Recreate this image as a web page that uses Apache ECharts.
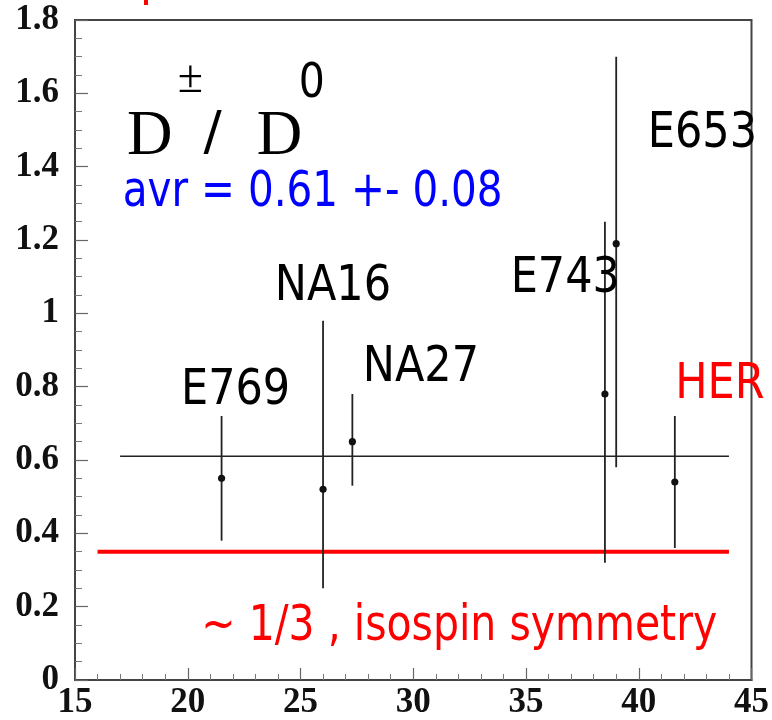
<!DOCTYPE html>
<html>
<head>
<meta charset="utf-8">
<script src="https://cdn.jsdelivr.net/npm/echarts@6/dist/echarts.min.js"></script>
<style>
  html, body { margin: 0; padding: 0; background: #fff; }
  #main { width: 772px; height: 720px; }
</style>
</head>
<body>
<div id="main"></div>
<script>
// D+- / D0 production ratio measured by several fixed-target experiments
const experiments = ['E769', 'NA16', 'NA27', 'E743', 'E653', 'HER'];
const energies    = [21.5, 26.0, 27.3, 38.5, 39.0, 41.6];   // sqrt(s), GeV
const ratios      = [0.55, 0.52, 0.65, 0.78, 1.19, 0.54];
const errLow      = [0.38, 0.25, 0.53, 0.32, 0.58, 0.36];
const errHigh     = [0.72, 0.98, 0.78, 1.25, 1.70, 0.72];

// weighted average and the isospin-symmetry expectation
const averageValue = 0.61;
const averageSpan  = [17, 44];
const isospinValue = 0.35;
const isospinSpan  = [16, 44];

// axis ticks
const xTickValues = [15, 20, 25, 30, 35, 40, 45];
const yTickValues = [0, 0.2, 0.4, 0.6, 0.8, 1, 1.2, 1.4, 1.6, 1.8];

// experiment name labels: left edge / vertical centre in data units
const labelText = ['E769', 'NA16', 'NA27', 'E743', 'E653'];
const labelX    = [19.70, 23.86, 27.76, 34.32, 40.40];
const labelY    = [0.787, 1.072, 0.850, 1.093, 1.489];

const chart = echarts.init(document.getElementById('main'), null, { renderer: 'canvas' });

const errorRows = energies.map((e, i) => [e, ratios[i], errLow[i], errHigh[i]]);

const tickFont = {
  fontFamily: 'Liberation Serif',
  fontWeight: 'bold',
  fontSize: 35,
  color: '#111'
};

chart.setOption({
  animation: false,
  backgroundColor: '#fff',
  grid: {
    left: 75, right: 20, top: 20, bottom: 38,
    show: true, borderColor: '#444', borderWidth: 2,
    backgroundColor: 'transparent'
  },
  xAxis: {
    type: 'value',
    min: xTickValues[0],
    max: xTickValues[xTickValues.length - 1],
    interval: xTickValues[1] - xTickValues[0],
    axisLine: { show: true, onZero: false, lineStyle: { color: '#444', width: 2 } },
    axisTick: { show: true, inside: true, length: 12, lineStyle: { color: '#666', width: 1.2 } },
    minorTick: { show: true, splitNumber: 5, length: 6, lineStyle: { color: '#777', width: 1 } },
    splitLine: { show: false },
    axisLabel: Object.assign({ margin: 5 }, tickFont)
  },
  yAxis: {
    type: 'value',
    min: yTickValues[0],
    max: yTickValues[yTickValues.length - 1],
    interval: yTickValues[1] - yTickValues[0],
    axisLine: { show: true, onZero: false, lineStyle: { color: '#444', width: 2 } },
    axisTick: { show: true, inside: true, length: 13, lineStyle: { color: '#666', width: 1.2 } },
    minorTick: { show: true, splitNumber: 4, length: 7, lineStyle: { color: '#777', width: 1 } },
    splitLine: { show: false },
    axisLabel: Object.assign({ margin: 16 }, tickFont)
  },
  series: [
    {
      name: 'isospin',
      type: 'line',
      data: [[isospinSpan[0], isospinValue], [isospinSpan[1], isospinValue]],
      symbol: 'none',
      lineStyle: { color: '#ff0000', width: 4 },
      z: 2
    },
    {
      name: 'average',
      type: 'line',
      data: [[averageSpan[0], averageValue], [averageSpan[1], averageValue]],
      symbol: 'none',
      lineStyle: { color: '#222', width: 1.5 },
      z: 3
    },
    {
      name: 'measurements',
      type: 'custom',
      data: errorRows,
      z: 4,
      renderItem: function (params, api) {
        const x = api.value(0);
        const c = api.coord([x, api.value(1)]);
        const lo = api.coord([x, api.value(2)]);
        const hi = api.coord([x, api.value(3)]);
        return {
          type: 'group',
          children: [
            {
              type: 'line',
              shape: { x1: lo[0], y1: lo[1], x2: hi[0], y2: hi[1] },
              style: { stroke: '#222', lineWidth: 1.8 }
            },
            {
              type: 'circle',
              shape: { cx: c[0], cy: c[1], r: 3.6 },
              style: { fill: '#111' }
            }
          ]
        };
      }
    }
  ]
});

// text annotations placed from data coordinates
function px(x, y) {
  return chart.convertToPixel({ gridIndex: 0 }, [x, y]);
}

function textAt(text, x, y, opts) {
  const p = px(x, y);
  return {
    type: 'text',
    x: p[0], y: p[1],
    scaleY: opts.scaleY || 1,
    z: 10,
    style: {
      text: text,
      fill: opts.color || '#000',
      fontFamily: opts.family || 'DejaVu Sans',
      fontSize: opts.size,
      textAlign: 'left',
      textVerticalAlign: 'middle'
    }
  };
}

const graphics = [];

labelText.forEach((t, i) => {
  graphics.push(textAt(t, labelX[i], labelY[i], { size: 43, scaleY: 1.14 }));
});
graphics.push(textAt('HER', 41.62, 0.803, { color: '#ff0000', size: 43, scaleY: 1.14 }));
graphics.push(textAt('avr = 0.61 +- 0.08', 17.12, 1.328, { color: '#0000ff', size: 40.5, scaleY: 1.24 }));
graphics.push(textAt('~ 1/3 , isospin symmetry', 20.60, 0.144, { color: '#ff0000', size: 41, scaleY: 1.2 }));

// ratio title: D^{\pm} / D^{0}
graphics.push(textAt('D', 17.31, 1.481, { family: 'Liberation Serif', size: 63 }));
graphics.push(textAt('D', 23.06, 1.481, { family: 'Liberation Serif', size: 63 }));
graphics.push(textAt('\u00b1', 19.56, 1.637, { family: 'Liberation Serif', size: 46 }));
graphics.push(textAt('/', 20.70, 1.487, { size: 54 }));
graphics.push(textAt('0', 24.92, 1.624, { size: 41, scaleY: 1.17 }));

// a sliver of red heading text clipped at the top edge
graphics.push({
  type: 'rect', z: 10,
  shape: { x: 144, y: 0, width: 4, height: 5 },
  style: { fill: '#ff0000' }
});

chart.setOption({ graphic: { elements: graphics } });
</script>
</body>
</html>
